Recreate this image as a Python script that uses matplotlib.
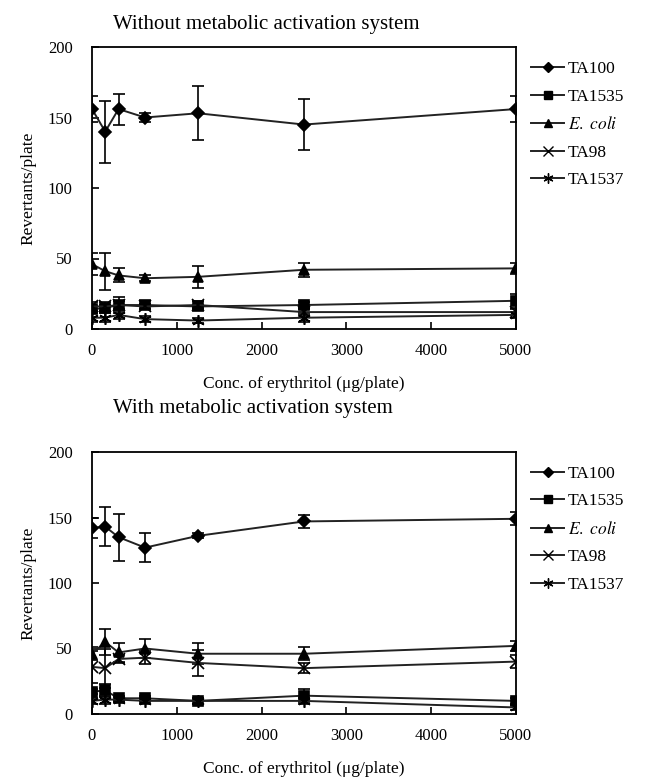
import matplotlib.pyplot as plt
from matplotlib.lines import Line2D

plt.rcParams['font.family'] = ['Liberation Serif', 'DejaVu Serif']
plt.rcParams['mathtext.fontset'] = 'stix'

# doser (ug/plate)
conc = [0, 156, 313, 625, 1250, 2500, 5000]
strains = ['TA100', 'TA1535', 'E. coli', 'TA98', 'TA1537']
labels = ['TA100', 'TA1535', r'$\it{E.\ coli}$', 'TA98', 'TA1537']

# uten metabolsk aktivering
s9_minus_mean = {
    'TA100':   [156, 140, 156, 150, 153, 145, 156],
    'TA1535':  [14, 15, 17, 17, 16, 17, 20],
    'E. coli': [46, 41, 38, 36, 37, 42, 43],
    'TA98':    [16, 16, 17, 16, 17, 12, 12],
    'TA1537':  [8, 8, 10, 7, 6, 8, 10],
}
s9_minus_sd = {
    'TA100':   [9, 22, 11, 3, 19, 18, 9],
    'TA1535':  [2, 2, 3, 1, 1, 2, 5],
    'E. coli': [8, 13, 5, 2, 8, 5, 4],
    'TA98':    [3, 3, 6, 2, 3, 2, 2],
    'TA1537':  [3, 3, 3, 2, 2, 3, 2],
}

# med metabolsk aktivering
s9_plus_mean = {
    'TA100':   [142, 143, 135, 127, 136, 147, 149],
    'TA1535':  [17, 18, 12, 12, 10, 14, 10],
    'E. coli': [46, 55, 47, 50, 46, 46, 52],
    'TA98':    [36, 35, 42, 43, 39, 35, 40],
    'TA1537':  [10, 11, 11, 10, 10, 10, 5],
}
s9_plus_sd = {
    'TA100':   [8, 15, 18, 11, 2, 5, 5],
    'TA1535':  [2, 5, 2, 2, 2, 5, 2],
    'E. coli': [5, 10, 7, 7, 8, 5, 4],
    'TA98':    [12, 15, 3, 5, 10, 4, 5],
    'TA1537':  [2, 3, 2, 2, 2, 2, 2],
}

markers = {'TA100': 'D', 'TA1535': 's', 'E. coli': '^', 'TA98': 'x', 'TA1537': (6, 2, 0)}
msizes = {'TA100': 6, 'TA1535': 6.5, 'E. coli': 7.5, 'TA98': 9, 'TA1537': 9}

fig = plt.figure(figsize=(6.45, 7.78), dpi=100)
W, H = 645, 778
ax1 = fig.add_axes([92 / W, 1 - 329 / H, (516 - 92) / W, (329 - 47) / H])
ax2 = fig.add_axes([92 / W, 1 - 714 / H, (516 - 92) / W, (714 - 452) / H])

panels = [(ax1, s9_minus_mean, s9_minus_sd, 'Without metabolic activation system', 329),
          (ax2, s9_plus_mean, s9_plus_sd, 'With metabolic activation system', 714)]

for ax, means, sds, title, ybot in panels:
    handles = []
    for s, lab in zip(strains, labels):
        ax.errorbar(conc, means[s], yerr=sds[s], color='#222222', ecolor='black',
                    lw=1.4, elinewidth=1.2, capsize=4, capthick=1.2,
                    marker=markers[s], ms=msizes[s], mfc='black', mec='black',
                    mew=1.2)
        handles.append(Line2D([], [], color='#222222', lw=1.4, marker=markers[s],
                              ms=msizes[s] * 0.8, mfc='black', mec='black',
                              mew=1.0, label=lab))
    ax.set_xlim(0, 5000)
    ax.set_ylim(0, 200)
    ax.set_xticks([0, 1000, 2000, 3000, 4000, 5000])
    ax.set_yticks([0, 50, 100, 150, 200])
    ax.tick_params(direction='in', length=5, width=1.2, labelsize=12)
    ax.tick_params(axis='x', pad=10)
    ax.tick_params(axis='y', pad=14)
    for sp in ax.spines.values():
        sp.set_linewidth(1.3)
    ax.set_ylabel('Revertants/plate', fontsize=12.5, labelpad=8)
    ax.set_xlabel('Conc. of erythritol (\u03bcg/plate)', fontsize=12.5, labelpad=12)
    ax.legend(handles=handles, loc='upper left', bbox_to_anchor=(1.02, 0.975),
              frameon=False, fontsize=12.5, handlelength=1.9, handletextpad=0.2,
              labelspacing=0.66, borderaxespad=0)
    fig.text(113 / W, 1 - (ybot - 305) / H, title, fontsize=15, ha='left', va='center')

fig.savefig('out.png', dpi=100)
